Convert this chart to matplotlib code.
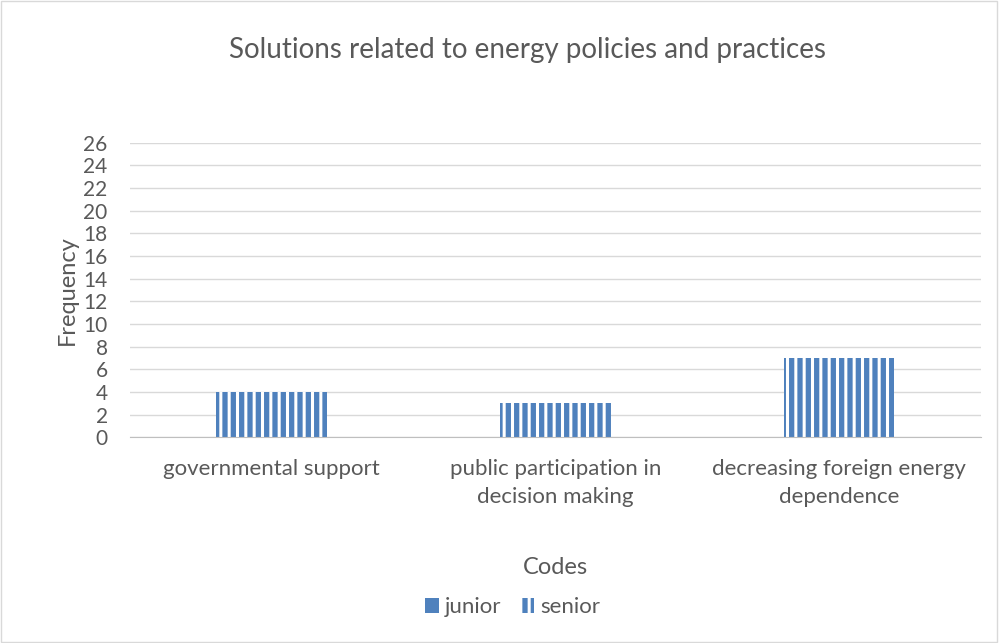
import matplotlib
matplotlib.use("Agg")
import matplotlib.pyplot as plt
import numpy as np

# chart data
categories = ["governmental support",
              "public participation in\ndecision making",
              "decreasing foreign energy\ndependence"]
junior = [0, 0, 0]
senior = [4, 3, 7]
yticks = list(range(0, 27, 2))

blue = "#4F81BD"
text_gray = "#595959"
grid_gray = "#D9D9D9"

plt.rcParams['font.family'] = ['Lato', 'DejaVu Sans']
plt.rcParams['hatch.linewidth'] = 2.2

fig = plt.figure(figsize=(9.99, 6.43), dpi=100)
ax = fig.add_axes([0.130, 0.320, 0.852, 0.458])

x = np.arange(len(categories))
ax.bar(x, junior, width=0.39, color=blue, label="junior")
ax.bar(x, senior, width=0.39, bottom=junior, facecolor=blue,
       edgecolor="white", linewidth=0, hatch="||", label="senior")

ax.set_xlim(-0.5, len(categories) - 0.5)
ax.set_ylim(0, 26)
ax.set_yticks(yticks)
ax.set_xticks(x)
ax.set_xticklabels(categories, fontsize=16, color=text_gray, linespacing=1.45)
ax.tick_params(axis='y', labelsize=15, labelcolor=text_gray, length=0, pad=16)
ax.tick_params(axis='x', length=0, pad=16)

ax.grid(axis='y', color=grid_gray, linewidth=1)
ax.set_axisbelow(True)
for side in ["top", "right", "left"]:
    ax.spines[side].set_visible(False)
ax.spines["bottom"].set_color("#BFBFBF")

ax.set_ylabel("Frequency", fontsize=17, color=text_gray, labelpad=4)
ax.set_xlabel("Codes", fontsize=17, color=text_gray, labelpad=36)
fig.suptitle("Solutions related to energy policies and practices",
             fontsize=20, color=text_gray, x=0.528, y=0.942)

fig.legend(loc="center", bbox_to_anchor=(0.513, 0.056), ncol=2, frameon=False,
           fontsize=16, labelcolor=text_gray, handlelength=0.64,
           handleheight=0.64, columnspacing=0.85, handletextpad=0.25)

# outer chart border
fig.patches.append(plt.Rectangle((0.001, 0.001), 0.997, 0.997,
                                 transform=fig.transFigure, fill=False,
                                 edgecolor=grid_gray, linewidth=1))

fig.savefig("out.png", dpi=100)
plt.close(fig)
